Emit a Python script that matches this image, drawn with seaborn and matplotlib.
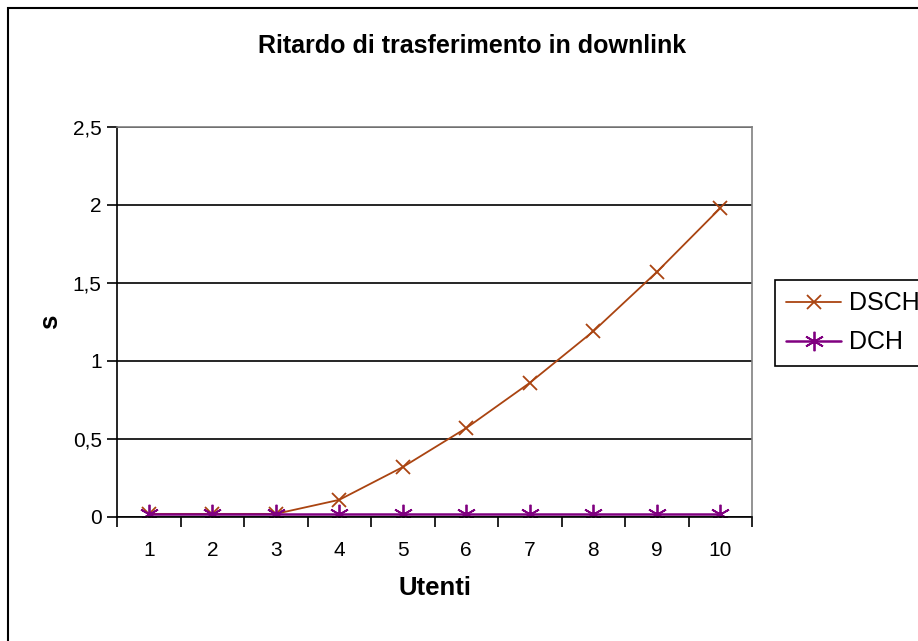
import numpy as np
import pandas as pd
import matplotlib
matplotlib.use("Agg")
import matplotlib.pyplot as plt
from matplotlib.patches import Rectangle
import seaborn as sns

# ---------------------------------------------------------------
# Data
# ---------------------------------------------------------------
utenti = [1, 2, 3, 4, 5, 6, 7, 8, 9, 10]
dsch = [0.02, 0.02, 0.02, 0.11, 0.32, 0.57, 0.86, 1.19, 1.57, 1.98]
dch = [0.02, 0.02, 0.02, 0.02, 0.02, 0.02, 0.02, 0.02, 0.02, 0.02]
y_ticks = [0, 0.5, 1, 1.5, 2, 2.5]
y_tick_labels = ["0", "0,5", "1", "1,5", "2", "2,5"]

df = pd.DataFrame({"Utenti": utenti * 2,
                   "s": dsch + dch,
                   "serie": ["DSCH"] * len(utenti) + ["DCH"] * len(utenti)})

sns.set_style("white")
plt.rcParams["font.family"] = ["Liberation Sans", "DejaVu Sans"]
plt.rcParams.update({"text.color": "black", "axes.labelcolor": "black",
                     "xtick.color": "black", "ytick.color": "black"})

fig = plt.figure(figsize=(9.18, 6.41), dpi=100)
ax = fig.add_axes([117 / 918, 1 - 517 / 641, (752 - 117) / 918, (517 - 127) / 641])

colors = {"DSCH": "#AA4411", "DCH": "#800080"}
markers = {"DSCH": "x", "DCH": (6, 2, 0)}
sizes = {"DSCH": 10, "DCH": 14}
for name in ["DSCH", "DCH"]:
    sub = df[df["serie"] == name]
    sns.lineplot(data=sub, x="Utenti", y="s", ax=ax, color=colors[name],
                 marker=markers[name], markersize=sizes[name],
                 markeredgecolor=colors[name], markeredgewidth=1.3,
                 lw=1.3 if name == "DSCH" else 1.8,
                 label=name, legend=False)

ax.set_xlim(0.5, 10.5)
ax.set_ylim(0, 2.5)
ax.set_yticks(y_ticks)
ax.set_yticklabels(y_tick_labels)
ax.set_xticks(utenti)
ax.set_xticklabels([str(u) for u in utenti])
ax.set_xticks(np.arange(0.5, 11, 1), minor=True)
ax.tick_params(axis="x", which="major", length=0, pad=17, labelsize=15)
ax.tick_params(axis="x", which="minor", length=7, width=1.2, direction="out",
               bottom=True, color="black")
ax.tick_params(axis="y", which="major", length=7, width=1.2, direction="out",
               left=True, pad=4, labelsize=15, color="black")

ax.grid(axis="y", color="black", lw=1.2)
ax.set_axisbelow(True)
for side in ["left", "bottom"]:
    ax.spines[side].set_color("black")
    ax.spines[side].set_linewidth(1.2)
for side in ["top", "right"]:
    ax.spines[side].set_color("#808080")
    ax.spines[side].set_linewidth(1.2)

ax.set_xlabel("Utenti", fontsize=18.5, fontweight="bold", labelpad=12)
ax.set_ylabel("s", fontsize=18.5, fontweight="bold", labelpad=8)

fig.text(472 / 918, 1 - 46 / 641, "Ritardo di trasferimento in downlink",
         ha="center", va="center", fontsize=18, fontweight="bold")

leg = ax.legend(loc="upper left", bbox_to_anchor=(775 / 918, 1 - 280 / 641),
                bbox_transform=fig.transFigure, borderaxespad=0,
                fontsize=18, frameon=True, fancybox=False, framealpha=1,
                handlelength=2.2, handletextpad=0.3, borderpad=0.45,
                labelspacing=0.6)
leg.get_frame().set_edgecolor("black")
leg.get_frame().set_linewidth(1.2)

# outer chart-area border (right and bottom edges are cropped in the reference)
fig.patches.append(Rectangle((8 / 918, -0.05), 1.1, 1 - 8 / 641 + 0.05,
                             transform=fig.transFigure, fill=False,
                             edgecolor="black", lw=1.5))

fig.savefig("out.png", dpi=100)
